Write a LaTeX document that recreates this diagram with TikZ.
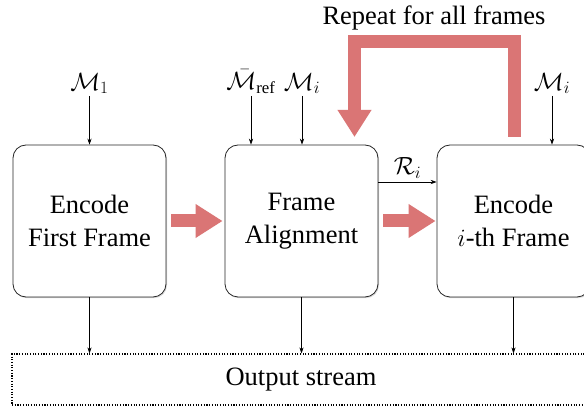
\documentclass[tikz,border=0pt]{standalone}
\usepackage{fontspec}
\setmainfont{Liberation Serif}
\usetikzlibrary{arrows.meta,shadows,calc}
\definecolor{loopred}{RGB}{218,117,117}
\tikzset{
  big/.style={font=\fontsize{26.5}{33}\selectfont},
  mathsize/.style={font=\fontsize{24}{28}\selectfont},
  blockbox/.style={big, draw=black!85, line width=0.8pt, rounded corners=13pt, fill=white,
    minimum width=153pt, minimum height=152pt, inner sep=0pt, align=center,
    drop shadow={shadow xshift=1pt, shadow yshift=-1.2pt, opacity=0.3}},
  outbox/.style={big, draw=black, line width=1.1pt, dash pattern=on 1.1pt off 1.6pt,
    minimum width=578pt, minimum height=51pt, inner sep=0pt},
  thin/.style={line width=0.6pt, -{Stealth[length=6pt,width=4.2pt]}},
  bigarrow/.style={draw=loopred, line width=13pt, line join=miter,
    -{Triangle[width=32pt,length=27pt]}},
  mlabel/.style={mathsize, anchor=south, inner xsep=0pt, inner ysep=2pt}
}
\begin{document}
\begin{tikzpicture}[x=1pt,y=1pt]
\clip (0,0) rectangle (584,407);
\fill[white] (0,0) rectangle (584,407);

% blocks
\node[blockbox] (b1) at (89.5,186) {Encode\\First Frame};
\node[blockbox] (b2) at (301.5,186) {Frame\\Alignment};
\node[blockbox] (b3) at (513.5,186) {Encode\\$i$-th Frame};
\node[outbox] (out) at (301,27.5) {Output stream};

% input labels
\node[mlabel] (m1) at (89.5,311) {$\mathcal{M}_1$};
\node[mlabel] (mref) at (251,311) {$\bar{\mathcal{M}}_{\mathrm{ref}}$};
\node[mlabel] (mi) at (302,311) {$\mathcal{M}_i$};
\node[mlabel] (mi3) at (552,311) {$\mathcal{M}_i$};

\draw[thin] (m1.south) -- (m1.south |- b1.north);
\draw[thin] (mref.south) -- (mref.south |- b2.north);
\draw[thin] (mi.south) -- (mi.south |- b2.north);
\draw[thin] (mi3.south) -- (mi3.south |- b3.north);

% outputs
\draw[thin] (b1.south) -- (b1.south |- out.north);
\draw[thin] (b2.south) -- (b2.south |- out.north);
\draw[thin] (b3.south) -- (b3.south |- out.north);

% R_i
\draw[thin] ([yshift=39pt]b2.east) -- node[mathsize, above=0pt, midway] (ri) {$\mathcal{R}_i$} ([yshift=39pt]b3.west);

% big red arrows
\draw[bigarrow, shorten <=5pt, shorten >=2pt] (b1.east) -- (b2.west);
\draw[bigarrow, shorten <=5pt, shorten >=1pt] (b2.east) -- (b3.west);

% loop
\coordinate (loopA) at (514,270);
\coordinate (loopB) at (354.5,270);
\draw[bigarrow] (loopA) -- ++(0,95.5) -| (loopB);
\node[big, anchor=base] (rep) at (434,382) {Repeat for all frames};
\end{tikzpicture}
\end{document}
